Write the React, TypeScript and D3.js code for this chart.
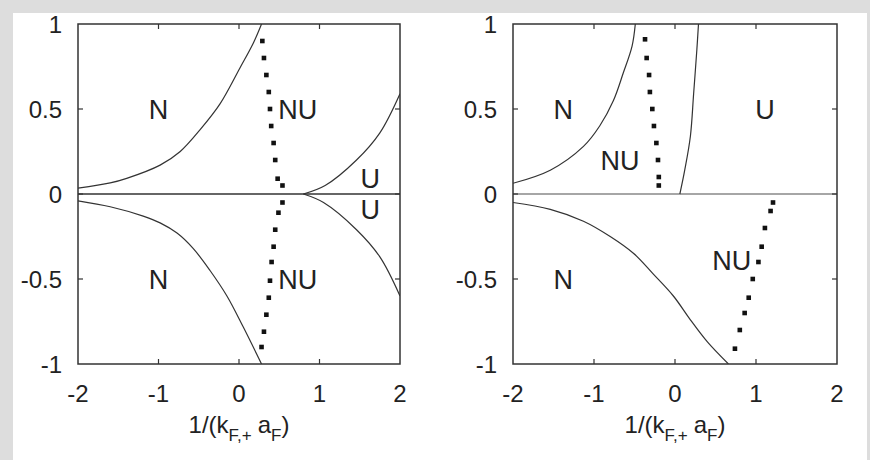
import React from "react";
import * as d3 from "d3";

// ---------- data ----------
const xTicks = [-2, -1, 0, 1, 2];
const yTicks = [-1, -0.5, 0, 0.5, 1];
const yTickLabels = ["-1", "-0.5", "0", "0.5", "1"];

// left panel
const L_upperN_x = [-2, -1.6, -1.395, -0.98, -0.73, -0.48, -0.236, 0.01, 0.18, 0.28];
const L_upperN_y = [0.034, 0.065, 0.092, 0.17, 0.25, 0.38, 0.53, 0.74, 0.89, 1];
const L_lowerN_x = [-2, -1.6, -1.19, -0.98, -0.77, -0.57, -0.36, -0.15, 0.05, 0.28];
const L_lowerN_y = [-0.04, -0.075, -0.13, -0.17, -0.23, -0.32, -0.45, -0.6, -0.78, -1];
const L_upperU_x = [0.8, 1.07, 1.46, 1.75, 2.0];
const L_upperU_y = [0, 0.05, 0.2, 0.36, 0.59];
const L_lowerU_x = [0.8, 1.05, 1.46, 1.75, 2.0];
const L_lowerU_y = [0, -0.05, -0.21, -0.37, -0.6];
const L_dots_x = [0.29, 0.31, 0.34, 0.37, 0.385, 0.4, 0.43, 0.45, 0.48, 0.54, 0.54, 0.49, 0.45, 0.43, 0.405, 0.385, 0.37, 0.34, 0.31, 0.28];
const L_dots_y = [0.9, 0.8, 0.7, 0.6, 0.5, 0.4, 0.3, 0.2, 0.09, 0.05, -0.05, -0.11, -0.21, -0.31, -0.4, -0.51, -0.61, -0.71, -0.81, -0.9];
const L_labels = ["N", "NU", "U", "U", "N", "NU"];
const L_labels_x = [-1, 0.73, 1.63, 1.63, -1, 0.73];
const L_labels_y = [0.5, 0.5, 0.094, -0.094, -0.5, -0.5];

// right panel
const R_upperN_x = [-2, -1.54, -1.13, -0.93, -0.76, -0.64, -0.53, -0.49];
const R_upperN_y = [0.063, 0.14, 0.28, 0.4, 0.55, 0.71, 0.87, 1];
const R_boundary_x = [0.06, 0.12, 0.19, 0.23, 0.27, 0.29];
const R_boundary_y = [0, 0.14, 0.34, 0.59, 0.85, 1];
const R_lowerN_x = [-2, -1.54, -1.13, -0.8, -0.51, -0.27, -0.02, 0.19, 0.4, 0.66];
const R_lowerN_y = [-0.05, -0.09, -0.16, -0.25, -0.35, -0.47, -0.6, -0.74, -0.87, -1];
const R_dots_x = [-0.37, -0.35, -0.32, -0.31, -0.28, -0.26, -0.23, -0.21, -0.2, -0.2, 1.21, 1.18, 1.11, 1.07, 1.03, 0.96, 0.91, 0.86, 0.8, 0.74];
const R_dots_y = [0.91, 0.8, 0.7, 0.6, 0.5, 0.4, 0.3, 0.2, 0.1, 0.05, -0.05, -0.1, -0.2, -0.31, -0.4, -0.5, -0.61, -0.7, -0.8, -0.91];
const R_labels = ["N", "NU", "U", "N", "NU"];
const R_labels_x = [-1.38, -0.68, 1.11, -1.38, 0.7];
const R_labels_y = [0.5, 0.2, 0.5, -0.5, -0.39];

const FONT = "'Liberation Sans', Arial, Helvetica, sans-serif";
const INK = "#222";

type Curve = { xs: number[]; ys: number[] };

function Panel(props: {
  x0: number;
  x1: number;
  curves: Curve[];
  dotsX: number[];
  dotsY: number[];
  labels: string[];
  labelsX: number[];
  labelsY: number[];
  zeroColor: string;
}) {
  const { x0, x1, curves, dotsX, dotsY, labels, labelsX, labelsY, zeroColor } = props;
  const x = d3.scaleLinear().domain([-2, 2]).range([x0, x1]);
  const y = d3.scaleLinear().domain([-1, 1]).range([364, 24]);
  const line = d3
    .line<[number, number]>()
    .x((d) => x(d[0]))
    .y((d) => y(d[1]))
    .curve(d3.curveCatmullRom.alpha(0.5));
  const tick = 5;
  return (
    <g>
      <defs>
        <clipPath id={`clip${x0}`}>
          <rect x={x0} y={24} width={x1 - x0} height={340} />
        </clipPath>
      </defs>
      <line x1={x(-2)} x2={x(2)} y1={y(0)} y2={y(0)} stroke={zeroColor} strokeWidth={1.5} />
      <g clipPath={`url(#clip${x0})`}>
        {curves.map((c, i) => (
          <path
            key={i}
            d={line(c.xs.map((v, j) => [v, c.ys[j]] as [number, number])) || ""}
            fill="none"
            stroke="#333"
            strokeWidth={1.2}
          />
        ))}
      </g>
      {dotsX.map((v, i) => (
        <rect key={i} x={x(v) - 2.3} y={y(dotsY[i]) - 2.3} width={4.6} height={4.6} fill="#111" />
      ))}
      <rect x={x0} y={24} width={x1 - x0} height={340} fill="none" stroke="#333" strokeWidth={1.5} />
      {xTicks.slice(1, -1).map((t) => (
        <g key={"xt" + t}>
          <line x1={x(t)} x2={x(t)} y1={y(-1)} y2={y(-1) - tick} stroke="#333" strokeWidth={1.2} />
          <line x1={x(t)} x2={x(t)} y1={y(1)} y2={y(1) + tick} stroke="#333" strokeWidth={1.2} />
        </g>
      ))}
      {yTicks.slice(1, -1).map((t) => (
        <g key={"yt" + t}>
          <line x1={x(-2)} x2={x(-2) + tick} y1={y(t)} y2={y(t)} stroke="#333" strokeWidth={1.2} />
          <line x1={x(2)} x2={x(2) - tick} y1={y(t)} y2={y(t)} stroke="#333" strokeWidth={1.2} />
        </g>
      ))}
      {xTicks.map((t) => (
        <text key={"xl" + t} x={x(t)} y={402} textAnchor="middle" fontSize={24} fontFamily={FONT} fill={INK}>
          {String(t)}
        </text>
      ))}
      {yTicks.map((t, i) => (
        <text
          key={"yl" + t}
          x={x0 - 16}
          y={y(t) + 8.5}
          textAnchor="end"
          fontSize={24}
          fontFamily={FONT}
          fill={INK}
        >
          {yTickLabels[i]}
        </text>
      ))}
      <text x={(x0 + x1) / 2} y={433} textAnchor="middle" fontSize={24} fontFamily={FONT} fill={INK}>
        <tspan>1/(k</tspan>
        <tspan fontSize={17} dy={8}>F,+</tspan>
        <tspan dy={-8} dx={6}>a</tspan>
        <tspan fontSize={17} dy={8}>F</tspan>
        <tspan dy={-8}>)</tspan>
      </text>
      {labels.map((s, i) => (
        <text
          key={"lab" + i}
          x={x(labelsX[i])}
          y={y(labelsY[i]) + 9.5}
          textAnchor="middle"
          fontSize={27}
          fontFamily={FONT}
          fill={INK}
        >
          {s}
        </text>
      ))}
    </g>
  );
}

export default function App() {
  const leftCurves: Curve[] = [
    { xs: L_upperN_x, ys: L_upperN_y },
    { xs: L_lowerN_x, ys: L_lowerN_y },
    { xs: L_upperU_x, ys: L_upperU_y },
    { xs: L_lowerU_x, ys: L_lowerU_y },
  ];
  const rightCurves: Curve[] = [
    { xs: R_upperN_x, ys: R_upperN_y },
    { xs: R_boundary_x, ys: R_boundary_y },
    { xs: R_lowerN_x, ys: R_lowerN_y },
  ];
  return (
    <svg width={870} height={460} style={{ position: "absolute", left: 0, top: 0, display: "block" }}>
      <rect x={0} y={0} width={870} height={460} fill="#dddddd" />
      <rect x={13} y={13} width={854} height={447} fill="#ffffff" />
      <Panel
        x0={78}
        x1={400}
        curves={leftCurves}
        dotsX={L_dots_x}
        dotsY={L_dots_y}
        labels={L_labels}
        labelsX={L_labels_x}
        labelsY={L_labels_y}
        zeroColor="#333"
      />
      <Panel
        x0={513}
        x1={837}
        curves={rightCurves}
        dotsX={R_dots_x}
        dotsY={R_dots_y}
        labels={R_labels}
        labelsX={R_labels_x}
        labelsY={R_labels_y}
        zeroColor="#888"
      />
    </svg>
  );
}
